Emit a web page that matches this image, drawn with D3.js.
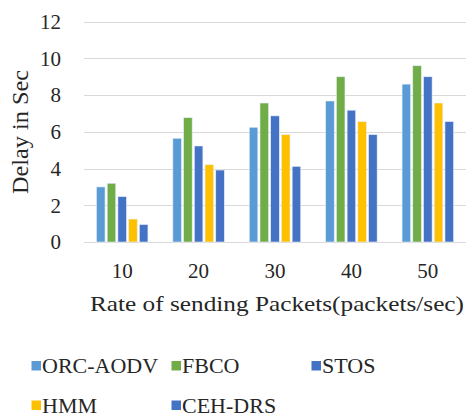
<!DOCTYPE html>
<html>
<head>
<meta charset="utf-8">
<script src="https://cdn.jsdelivr.net/npm/d3@7"></script>
<style>
  body { margin: 0; background: #ffffff; }
</style>
</head>
<body>
<div id="main_output"></div>
<script>
// rates on the x axis
var rates = ["10", "20", "30", "40", "50"];
var seriesNames = ["ORC-AODV", "FBCO", "STOS", "HMM", "CEH-DRS"];
var seriesColours = ["#5b9bd5", "#70ad47", "#4472c4", "#ffc000", "#4472c4"];

// delay values, one list per protocol
var orcAodv = [3.0, 5.65, 6.25, 7.68, 8.6];
var fbco    = [3.2, 6.77, 7.57, 9.0, 9.6];
var stos    = [2.47, 5.23, 6.87, 7.18, 9.0];
var hmm     = [1.25, 4.21, 5.85, 6.56, 7.57];
var cehDrs  = [0.95, 3.92, 4.12, 5.85, 6.56];

var yTicks = [0, 2, 4, 6, 8, 10, 12];

var seriesValues = [orcAodv, fbco, stos, hmm, cehDrs];

var W = 467, H = 418;
var plot = {left: 84, right: 466, top: 21.7, bottom: 242};
var textColour = "#262626";
var fontName = "Liberation Serif";

var svg = d3.select("#main_output")
  .append("svg")
  .attr("width", W)
  .attr("height", H);

var x0 = d3.scaleBand()
  .domain(rates)
  .range([plot.left, plot.right])
  .paddingInner(0.27)
  .paddingOuter(0.135);

var x1 = d3.scaleBand()
  .domain(d3.range(seriesNames.length))
  .range([0, x0.bandwidth()])
  .padding(0.2);

var y = d3.scaleLinear()
  .domain([0, 12])
  .range([plot.bottom, plot.top]);

// gridlines
svg.append("g")
  .selectAll("line")
  .data(yTicks)
  .enter()
  .append("line")
  .attr("x1", plot.left)
  .attr("x2", plot.right)
  .attr("y1", function(d) { return Math.round(y(d)) + 0.5; })
  .attr("y2", function(d) { return Math.round(y(d)) + 0.5; })
  .attr("stroke", "#d9d9d9")
  .attr("stroke-width", 1.2);

// y tick labels
svg.append("g")
  .selectAll("text")
  .data(yTicks)
  .enter()
  .append("text")
  .attr("x", 61)
  .attr("y", function(d) { return y(d); })
  .attr("dy", "0.35em")
  .attr("text-anchor", "end")
  .attr("font-family", fontName)
  .attr("font-size", "21px")
  .attr("fill", textColour)
  .text(function(d) { return d; });

// bars
var groups = svg.append("g")
  .selectAll("g")
  .data(rates)
  .enter()
  .append("g")
  .attr("transform", function(d) { return "translate(" + x0(d) + ",0)"; });

groups.selectAll("rect")
  .data(function(d, i) {
    return seriesValues.map(function(vals, s) { return {s: s, v: vals[i]}; });
  })
  .enter()
  .append("rect")
  .attr("x", function(d) { return x1(d.s); })
  .attr("y", function(d) { return y(d.v); })
  .attr("width", x1.bandwidth())
  .attr("height", function(d) { return y(0) - y(d.v); })
  .attr("fill", function(d) { return seriesColours[d.s]; })
  .attr("stroke", "#e6eef8")
  .attr("stroke-width", 0.6);

// x tick labels
svg.append("g")
  .selectAll("text")
  .data(rates)
  .enter()
  .append("text")
  .attr("x", function(d) { return x0(d) + x0.bandwidth() / 2; })
  .attr("y", 278)
  .attr("text-anchor", "middle")
  .attr("font-family", fontName)
  .attr("font-size", "21px")
  .attr("fill", textColour)
  .text(function(d) { return d; });

// axis titles
svg.append("text")
  .attr("x", 90)
  .attr("y", 311)
  .attr("font-family", fontName)
  .attr("font-size", "22px")
  .attr("fill", textColour)
  .attr("textLength", 374)
  .attr("lengthAdjust", "spacingAndGlyphs")
  .text("Rate of sending Packets(packets/sec)");

svg.append("text")
  .attr("transform", "translate(28,132) rotate(-90)")
  .attr("text-anchor", "middle")
  .attr("font-family", fontName)
  .attr("font-size", "23px")
  .attr("fill", textColour)
  .attr("textLength", 124)
  .attr("lengthAdjust", "spacingAndGlyphs")
  .text("Delay in Sec");

// legend
var legendPos = [[31.5, 0], [171.5, 0], [311.5, 0], [31.5, 1], [171.5, 1]];
var legend = svg.append("g")
  .selectAll("g")
  .data(seriesNames)
  .enter()
  .append("g")
  .attr("transform", function(d, i) {
    return "translate(" + legendPos[i][0] + "," + (361 + legendPos[i][1] * 39.5) + ")";
  });

legend.append("rect")
  .attr("width", 9.5)
  .attr("height", 9.5)
  .attr("fill", function(d, i) { return seriesColours[i]; });

legend.append("text")
  .attr("x", 10.5)
  .attr("y", 12)
  .attr("font-family", fontName)
  .attr("font-size", "22px")
  .attr("fill", textColour)
  .text(function(d) { return d; });
</script>
</body>
</html>
